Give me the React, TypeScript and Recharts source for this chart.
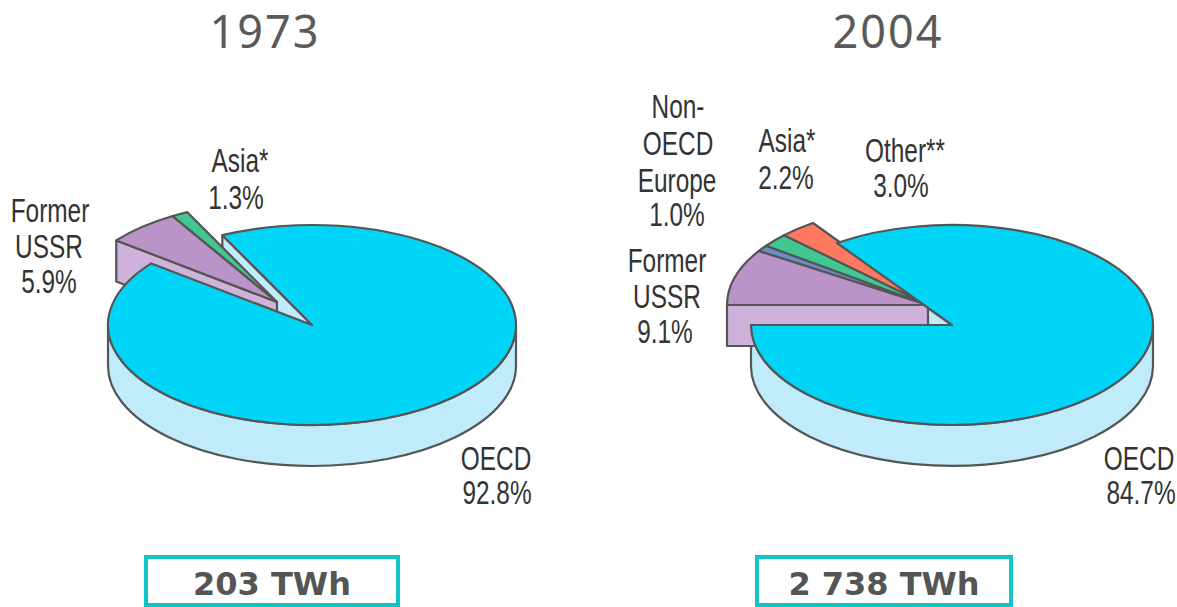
import React from 'react';
import { PieChart, Pie } from 'recharts';

const categories1973 = ['Former USSR', 'Asia*', 'OECD'];
const values1973 = [5.9, 1.3, 92.8];
const categories2004 = ['Former USSR', 'Non-OECD Europe', 'Asia*', 'Other**', 'OECD'];
const values2004 = [9.1, 1.0, 2.2, 3.0, 84.7];

const topColors: Record<string, string> = {
    'Former USSR': '#BA94C8',
    'Non-OECD Europe': '#6C8CC8',
    'Asia*': '#40C890',
    'Other**': '#FF7860',
    OECD: '#00D4F7',
};
const wallColors = { lilac: '#CDB3DB', cyan: '#BFEBFB' };
const LINE = '#555';
const LINE_W = 2.2;
const DEPTH = 41;

const toData = (names: string[], values: number[]) =>
    names.map((name, i) => ({ name, value: values[i] }));

const rad = (a: number) => (a * Math.PI) / 180;

// layer: base = OECD wall, wedge = pulled out slices, top = OECD face
const makeShape = (layer: 'base' | 'wedge' | 'top', ry: number, dx: number, dy: number) => (props: any) => {
    const { cx, cy, outerRadius: rx, startAngle, endAngle, name, index } = props;
    const isMain = name === 'OECD';
    const pt = (a: number, ox = 0, oy = 0) => [cx + ox + rx * Math.cos(rad(a)), cy + oy - ry * Math.sin(rad(a))];

    if (layer === 'base') {
        if (!isMain) return <g />;
        const [lx, ly] = pt(180);
        const [rx2, ry2] = pt(360);
        const [ex, ey] = pt(startAngle);
        return (
            <g stroke={LINE} strokeWidth={LINE_W} strokeLinejoin="round" fill={wallColors.cyan}>
                <path d={`M${lx},${ly} A${rx},${ry} 0 0 0 ${rx2},${ry2} L${rx2},${ry2 + DEPTH} A${rx},${ry} 0 0 1 ${lx},${ly + DEPTH} Z`} />
                <path d={`M${cx},${cy} L${ex},${ey} L${ex},${ey + DEPTH} L${cx},${cy + DEPTH} Z`} />
            </g>
        );
    }

    if (layer === 'wedge') {
        if (isMain) return <g />;
        const [ax, ay] = pt(startAngle, dx, dy);
        const [bx, by] = pt(endAngle, dx, dy);
        const ox = cx + dx;
        const oy = cy + dy;
        return (
            <g stroke={LINE} strokeWidth={LINE_W} strokeLinejoin="round">
                {index === 0 && (
                    <path
                        fill={wallColors.lilac}
                        d={`M${ax},${ay} L${ox},${oy} L${ox},${oy + DEPTH} L${ax},${ay + DEPTH} Z`}
                    />
                )}
                <path
                    fill={topColors[name]}
                    d={`M${ox},${oy} L${ax},${ay} A${rx},${ry} 0 0 1 ${bx},${by} Z`}
                />
            </g>
        );
    }

    if (!isMain) return <g />;
    const [sx, sy] = pt(startAngle);
    const [tx, ty] = pt(endAngle);
    return (
        <path
            stroke={LINE}
            strokeWidth={LINE_W}
            strokeLinejoin="round"
            fill={topColors.OECD}
            d={`M${cx},${cy} L${sx},${sy} A${rx},${ry} 0 1 1 ${tx},${ty} Z`}
        />
    );
};

const layers: ('base' | 'wedge' | 'top')[] = ['base', 'wedge', 'top'];

const labels: [string, number, number][] = [
    ['Asia*', 240, 172],
    ['1.3%', 236, 209],
    ['Former', 50, 222],
    ['USSR', 49, 258],
    ['5.9%', 49, 293],
    ['OECD', 496, 470],
    ['92.8%', 497, 504],
    ['Non-', 678, 118],
    ['OECD', 678, 155],
    ['Europe', 677, 192],
    ['1.0%', 677, 226],
    ['Asia*', 787, 152],
    ['2.2%', 786, 189],
    ['Other**', 905, 162],
    ['3.0%', 901, 197],
    ['Former', 667, 272],
    ['USSR', 667, 308],
    ['9.1%', 665, 343],
    ['OECD', 1139, 470],
    ['84.7%', 1141, 504],
];

const titles: [string, number][] = [['1973', 265], ['2004', 888]];
const totals: [string, number, number, number][] = [
    ['203 TWh', 146, 252, 272],
    ['2 738 TWh', 757, 254, 884],
];

export default function App() {
    return (
        <div style={{ position: 'absolute', left: 0, top: 0, width: 1177, height: 607, background: '#fff' }}>
            <PieChart width={1177} height={607} margin={{ top: 0, right: 0, bottom: 0, left: 0 }}>
                {layers.map((layer) => (
                    <Pie
                        key={`a-${layer}`}
                        data={toData(categories1973, values1973)}
                        dataKey="value"
                        nameKey="name"
                        cx={312}
                        cy={325}
                        innerRadius={0}
                        outerRadius={204}
                        startAngle={142}
                        endAngle={-218}
                        isAnimationActive={false}
                        shape={makeShape(layer, 100, -35, -23)}
                    />
                ))}
                {layers.map((layer) => (
                    <Pie
                        key={`b-${layer}`}
                        data={toData(categories2004, values2004)}
                        dataKey="value"
                        nameKey="name"
                        cx={952}
                        cy={325}
                        innerRadius={0}
                        outerRadius={201}
                        startAngle={180}
                        endAngle={-180}
                        isAnimationActive={false}
                        shape={makeShape(layer, 100, -24, -20)}
                    />
                ))}
                {titles.map(([t, x]) => (
                    <text key={t} x={x} y={48} textAnchor="middle" fontFamily='"Noto Sans", sans-serif' fontSize={45} letterSpacing={2} fill="#5a5a5a">
                        {t}
                    </text>
                ))}
                {labels.map(([t, x, y]) => (
                    <text
                        key={`${t}-${x}`}
                        transform={`translate(${x},${y}) scale(0.74,1)`}
                        textAnchor="middle"
                        fontFamily='"Liberation Sans", sans-serif'
                        fontSize={33}
                        fill="#333"
                    >
                        {t}
                    </text>
                ))}
                {totals.map(([t, x, w, tx]) => (
                    <g key={t}>
                        <rect x={x} y={557} width={w} height={48} fill="#fff" stroke="#10C4C8" strokeWidth={4} />
                        <text x={tx} y={595} textAnchor="middle" fontFamily='"DejaVu Sans", sans-serif' fontWeight="bold" fontSize={32} fill="#555">
                            {t}
                        </text>
                    </g>
                ))}
            </PieChart>
        </div>
    );
}
